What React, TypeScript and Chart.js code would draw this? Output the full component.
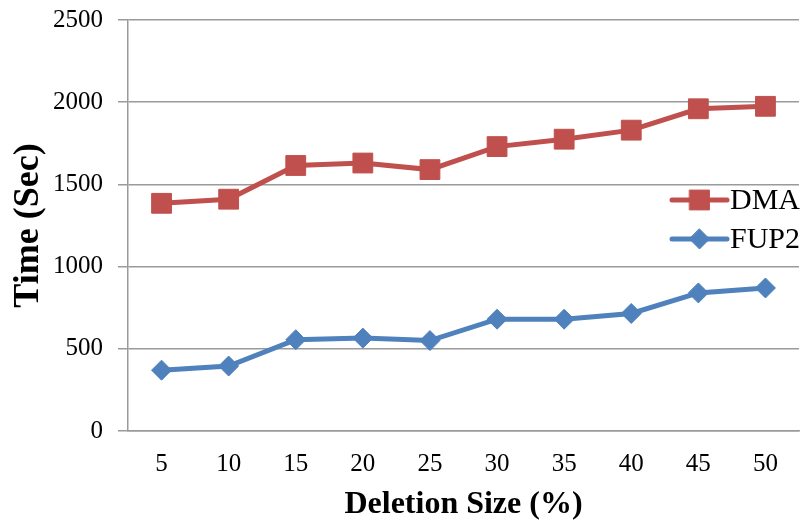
import React, { useEffect, useRef } from "react";
import { Chart, registerables } from "chart.js";

Chart.register(...registerables);

// Deletion size categories (%)
const deletionSizes = ["5", "10", "15", "20", "25", "30", "35", "40", "45", "50"];

// Run time in seconds for each method
const dmaTimes = [1385, 1410, 1615, 1630, 1590, 1730, 1775, 1830, 1960, 1975];
const fup2Times = [370, 395, 555, 565, 550, 680, 680, 715, 840, 870];

const seriesNames = ["DMA", "FUP2"];
const yTicks = [0, 500, 1000, 1500, 2000, 2500];

const RED = "#C0504D";
const BLUE = "#4F81BD";
const GRID = "#9a9a9a";
const FONT = "'Liberation Serif', 'Times New Roman', serif";

// Legend drawn inside the plot area on the right side
const insideLegend = {
  id: "insideLegend",
  afterDatasetsDraw(chart: any) {
    const ctx = chart.ctx as CanvasRenderingContext2D;
    const rows = [200, 239];
    const x0 = 672;
    const x1 = 727;
    chart.data.datasets.forEach((ds: any, i: number) => {
      const y = rows[i];
      ctx.save();
      ctx.strokeStyle = ds.borderColor;
      ctx.lineWidth = ds.borderWidth;
      ctx.lineCap = "round";
      ctx.beginPath();
      ctx.moveTo(x0, y);
      ctx.lineTo(x1, y);
      ctx.stroke();
      ctx.fillStyle = ds.pointBackgroundColor;
      ctx.strokeStyle = ds.borderColor;
      ctx.lineWidth = 1;
      const r = ds.pointRadius;
      const cx = (x0 + x1) / 2;
      ctx.beginPath();
      if (ds.pointStyle === "rect") {
        const s = Math.SQRT1_2 * r;
        ctx.rect(cx - s, y - s, 2 * s, 2 * s);
      } else {
        ctx.moveTo(cx, y - r);
        ctx.lineTo(cx + r, y);
        ctx.lineTo(cx, y + r);
        ctx.lineTo(cx - r, y);
        ctx.closePath();
      }
      ctx.fill();
      ctx.stroke();
      ctx.fillStyle = "#000";
      ctx.font = `30px ${FONT}`;
      ctx.textAlign = "left";
      ctx.textBaseline = "middle";
      ctx.fillText(ds.label, x1 + 3, y + 1);
      ctx.restore();
    });
  },
};

export default function App() {
  const canvasRef = useRef<HTMLCanvasElement | null>(null);

  useEffect(() => {
    document.body.style.margin = "0";
    const canvas = canvasRef.current;
    if (!canvas) return;
    const chart = new Chart(canvas, {
      type: "line",
      data: {
        labels: deletionSizes,
        datasets: [
          {
            label: seriesNames[0],
            data: dmaTimes,
            borderColor: RED,
            backgroundColor: RED,
            pointBackgroundColor: RED,
            pointBorderColor: RED,
            borderWidth: 5,
            pointStyle: "rect",
            pointRadius: 14,
            pointBorderWidth: 1,
            tension: 0,
          },
          {
            label: seriesNames[1],
            data: fup2Times,
            borderColor: BLUE,
            backgroundColor: BLUE,
            pointBackgroundColor: BLUE,
            pointBorderColor: BLUE,
            borderWidth: 5,
            pointStyle: "rectRot",
            pointRadius: 10,
            pointBorderWidth: 1,
            tension: 0,
          },
        ],
      },
      options: {
        responsive: false,
        animation: false,
        devicePixelRatio: 1,
        layout: {
          autoPadding: false,
          padding: { top: 20, right: 9, bottom: 0, left: 0 },
        },
        plugins: {
          legend: { display: false },
          tooltip: { enabled: false },
        },
        scales: {
          x: {
            offset: true,
            grid: { display: false, drawTicks: false },
            border: { display: true, color: GRID, width: 1.5 },
            ticks: {
              color: "#000",
              font: { family: FONT, size: 25 },
              padding: 18,
              maxRotation: 0,
            },
            title: {
              display: true,
              text: "Deletion Size (%)",
              color: "#000",
              font: { family: FONT, size: 32, weight: "bold", lineHeight: 1 },
              padding: { top: 0, bottom: 0 },
            },
            afterFit(scale: any) {
              scale.height = 90;
              scale.paddingLeft = 0;
              scale.paddingRight = 0;
            },
          },
          y: {
            min: 0,
            max: 2500,
            afterBuildTicks(scale: any) {
              scale.ticks = yTicks.map((v) => ({ value: v }));
            },
            grid: {
              color: GRID,
              lineWidth: 1.5,
              drawTicks: true,
              tickLength: 10,
            },
            border: { display: true, color: GRID, width: 1.5 },
            ticks: {
              color: "#000",
              font: { family: FONT, size: 25 },
              padding: 15,
              callback: (v: any) => String(v),
            },
            title: {
              display: true,
              text: "Time (Sec)",
              color: "#000",
              font: { family: FONT, size: 36, weight: "bold", lineHeight: 1.2 },
              padding: { top: 7, bottom: 0 },
            },
            afterFit(scale: any) {
              scale.width = 128;
              scale.paddingTop = 0;
              scale.paddingBottom = 0;
            },
          },
        },
      },
      plugins: [insideLegend],
    });
    return () => chart.destroy();
  }, []);

  return (
    <div style={{ width: 808, height: 521 }}>
      <canvas ref={canvasRef} width={808} height={521} style={{ display: "block" }} />
    </div>
  );
}
